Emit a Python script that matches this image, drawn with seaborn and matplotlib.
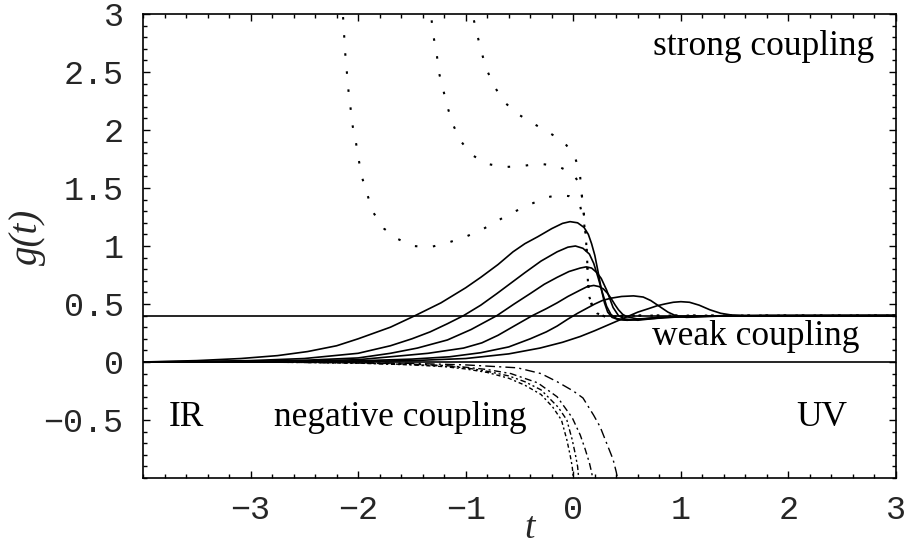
import matplotlib
matplotlib.use("Agg")
import numpy as np
import pandas as pd
import seaborn as sns
import matplotlib.pyplot as plt
from matplotlib.ticker import MultipleLocator

# ---------------- data ----------------
fixed_points = [0.0, 0.4]

# solid curves (weak-coupling flows)
s1_t = [-4.0, -3.5, -3.09, -2.75, -2.47, -2.2, -2.0, -1.79, -1.70, -1.47, -1.23, -1.0, -0.86, -0.7, -0.56, -0.45, -0.33, -0.2, -0.1, -0.03, 0.04, 0.1, 0.14, 0.17, 0.2, 0.23, 0.26, 0.29, 0.32, 0.36, 0.42, 0.5, 0.6, 0.8, 1.1, 1.5, 3.0]
s1_g = [0.0, 0.012, 0.03, 0.055, 0.09, 0.14, 0.20, 0.27, 0.30, 0.40, 0.51, 0.64, 0.73, 0.84, 0.95, 1.02, 1.08, 1.15, 1.195, 1.21, 1.20, 1.16, 1.10, 1.02, 0.92, 0.78, 0.63, 0.51, 0.43, 0.385, 0.365, 0.36, 0.37, 0.385, 0.395, 0.4, 0.4]

s2_t = [-4.0, -3.5, -3.0, -2.5, -2.0, -1.7, -1.5, -1.33, -1.17, -1.02, -0.86, -0.71, -0.58, -0.45, -0.3, -0.15, -0.05, 0.02, 0.09, 0.15, 0.19, 0.23, 0.27, 0.31, 0.35, 0.4, 0.5, 0.65, 0.8, 1.2, 3.0]
s2_g = [0.0, 0.005, 0.012, 0.03, 0.075, 0.14, 0.2, 0.26, 0.33, 0.40, 0.49, 0.59, 0.68, 0.77, 0.87, 0.95, 0.99, 1.0, 0.98, 0.93, 0.85, 0.73, 0.60, 0.48, 0.41, 0.375, 0.36, 0.37, 0.385, 0.398, 0.4]

s3_t = [-4.0, -3.0, -2.5, -2.0, -1.7, -1.45, -1.17, -0.95, -0.71, -0.55, -0.40, -0.27, -0.15, -0.04, 0.065, 0.12, 0.17, 0.22, 0.26, 0.31, 0.37, 0.42, 0.48, 0.6, 0.85, 1.3, 3.0]
s3_g = [0.0, 0.005, 0.015, 0.035, 0.075, 0.12, 0.19, 0.28, 0.40, 0.50, 0.59, 0.67, 0.73, 0.78, 0.81, 0.82, 0.81, 0.77, 0.72, 0.62, 0.47, 0.40, 0.37, 0.36, 0.385, 0.398, 0.4]

s4_t = [-4.0, -3.0, -2.5, -2.0, -1.7, -1.35, -1.02, -0.85, -0.7, -0.55, -0.38, -0.25, -0.15, -0.05, 0.065, 0.13, 0.19, 0.24, 0.28, 0.32, 0.35, 0.39, 0.42, 0.46, 0.5, 0.6, 0.75, 1.0, 1.5, 3.0]
s4_g = [0.0, 0.003, 0.008, 0.02, 0.045, 0.075, 0.12, 0.165, 0.23, 0.31, 0.40, 0.46, 0.51, 0.565, 0.62, 0.65, 0.66, 0.65, 0.63, 0.59, 0.55, 0.49, 0.45, 0.41, 0.39, 0.37, 0.375, 0.39, 0.4, 0.4]

s5_t = [-4.0, -2.5, -2.0, -1.5, -1.15, -0.86, -0.6, -0.4, -0.25, -0.15, -0.05, 0.04, 0.12, 0.2, 0.27, 0.35, 0.45, 0.56, 0.65, 0.72, 0.8, 0.88, 0.95, 1.05, 1.2, 1.4, 3.0]
s5_g = [0.0, 0.004, 0.01, 0.025, 0.045, 0.08, 0.13, 0.20, 0.26, 0.31, 0.37, 0.42, 0.46, 0.50, 0.53, 0.55, 0.565, 0.57, 0.56, 0.53, 0.48, 0.43, 0.40, 0.385, 0.39, 0.397, 0.4]

s6_t = [-4.0, -2.0, -1.5, -1.0, -0.6, -0.31, -0.1, 0.065, 0.2, 0.3, 0.4, 0.5, 0.6, 0.7, 0.78, 0.85, 0.93, 1.0, 1.08, 1.17, 1.27, 1.37, 1.47, 1.6, 1.8, 3.0]
s6_g = [0.0, 0.005, 0.012, 0.03, 0.07, 0.12, 0.17, 0.22, 0.27, 0.31, 0.35, 0.39, 0.43, 0.46, 0.485, 0.50, 0.515, 0.52, 0.515, 0.49, 0.45, 0.42, 0.405, 0.397, 0.4, 0.4]

# dotted curves (strong-coupling flows)
d1_t = [-2.16, -2.14, -2.12, -2.09, -2.05, -2.02, -1.99, -1.96, -1.91, -1.86, -1.76, -1.63, -1.49, -1.33, -1.16, -1.0, -0.85, -0.70, -0.56, -0.40, -0.24, -0.14, -0.04, 0.02, 0.065, 0.1, 0.12, 0.13, 0.135, 0.15, 0.18, 0.22, 0.3, 0.5, 3.0]
d1_g = [3.2, 2.97, 2.66, 2.34, 2.03, 1.89, 1.72, 1.58, 1.43, 1.29, 1.15, 1.06, 1.0, 0.99, 1.03, 1.08, 1.14, 1.22, 1.29, 1.36, 1.42, 1.44, 1.43, 1.40, 1.34, 1.2, 1.03, 0.86, 0.71, 0.56, 0.47, 0.42, 0.39, 0.4, 0.4]

d2_t = [-1.34, -1.32, -1.30, -1.27, -1.25, -1.21, -1.17, -1.12, -1.05, -0.95, -0.81, -0.65, -0.47, -0.32, -0.15, -0.01, 0.05, 0.075, 0.09, 0.11, 0.12, 0.13, 0.135, 0.15, 0.18, 0.22, 0.3, 0.5, 3.0]
d2_g = [3.1, 2.97, 2.81, 2.66, 2.5, 2.35, 2.2, 2.05, 1.91, 1.79, 1.71, 1.68, 1.69, 1.71, 1.69, 1.63, 1.55, 1.48, 1.34, 1.18, 1.03, 0.86, 0.71, 0.56, 0.47, 0.42, 0.39, 0.4, 0.4]

d3_t = [-0.95, -0.93, -0.89, -0.85, -0.80, -0.73, -0.64, -0.52, -0.38, -0.23, -0.09, 0.01, 0.06, 0.075, 0.09, 0.11, 0.12, 0.13, 0.135, 0.15, 0.18, 0.22, 0.3, 0.5, 3.0]
d3_g = [3.1, 2.97, 2.81, 2.66, 2.51, 2.37, 2.24, 2.14, 2.06, 1.98, 1.90, 1.78, 1.64, 1.48, 1.34, 1.18, 1.03, 0.86, 0.71, 0.56, 0.47, 0.42, 0.39, 0.4, 0.4]

# dash-dot curves (negative coupling)
n1_t = [-4.0, -3.0, -2.5, -2.0, -1.5, -1.2, -1.0, -0.8, -0.6, -0.45, -0.3, -0.19, -0.11, -0.06, -0.03, -0.01, 0.0]
n1_g = [0.0, -0.001, -0.004, -0.01, -0.025, -0.04, -0.06, -0.09, -0.14, -0.2, -0.28, -0.39, -0.5, -0.67, -0.8, -0.9, -1.0]

n2_t = [-4.0, -3.0, -2.5, -2.0, -1.5, -1.2, -1.0, -0.8, -0.6, -0.45, -0.3, -0.14, -0.06, -0.01, 0.02, 0.04, 0.05]
n2_g = [0.0, -0.001, -0.004, -0.009, -0.022, -0.035, -0.05, -0.08, -0.12, -0.17, -0.24, -0.39, -0.5, -0.67, -0.8, -0.9, -1.0]

n3_t = [-4.0, -3.0, -2.5, -2.0, -1.5, -1.2, -1.0, -0.8, -0.58, -0.33, -0.15, -0.01, 0.065, 0.11, 0.15, 0.17, 0.18]
n3_g = [0.0, -0.001, -0.003, -0.007, -0.018, -0.03, -0.045, -0.065, -0.1, -0.18, -0.30, -0.48, -0.63, -0.75, -0.87, -0.95, -1.0]

n4_t = [-4.0, -3.0, -2.5, -2.0, -1.5, -1.0, -0.52, -0.3, -0.15, 0.0, 0.09, 0.19, 0.25, 0.31, 0.37, 0.40, 0.41]
n4_g = [0.0, -0.001, -0.003, -0.006, -0.012, -0.025, -0.05, -0.1, -0.17, -0.25, -0.31, -0.46, -0.56, -0.70, -0.84, -0.95, -1.0]

x_ticks = [-3, -2, -1, 0, 1, 2, 3]
y_ticks = [-0.5, 0, 0.5, 1, 1.5, 2, 2.5, 3]
y_tick_labels = ["\u22120.5", "0", "0.5", "1", "1.5", "2", "2.5", "3"]
x_tick_labels = ["\u22123", "\u22122", "\u22121", "0", "1", "2", "3"]

annotations = [
    ("strong coupling", 2.80, 2.72, "right"),
    ("weak coupling", 2.66, 0.22, "right"),
    ("UV", 2.31, -0.48, "center"),
    ("IR", -3.60, -0.48, "center"),
    ("negative coupling", -1.61, -0.48, "center"),
]

# ---------------- plotting ----------------
sns.set_style("ticks")
plt.rcParams['font.family'] = ['Liberation Mono', 'DejaVu Sans']
plt.rcParams['axes.unicode_minus'] = True

fig = plt.figure(figsize=(9.06, 5.48), dpi=100)
ax = fig.add_axes([143 / 906, 70 / 548, 753 / 906, 464 / 548])

lw_solid = 1.2
for yv in fixed_points:
    ax.axhline(yv, color="black", lw=lw_solid, zorder=3)

for t, g in [(s1_t, s1_g), (s2_t, s2_g), (s3_t, s3_g), (s4_t, s4_g), (s5_t, s5_g), (s6_t, s6_g)]:
    sns.lineplot(x=t, y=g, ax=ax, color="black", lw=lw_solid, sort=False, estimator=None)

dot_style = (0, (1.2, 7.5))
for t, g in [(d1_t, d1_g), (d2_t, d2_g), (d3_t, d3_g)]:
    sns.lineplot(x=t, y=g, ax=ax, color="black", lw=1.5, sort=False, estimator=None,
                 linestyle=dot_style)

neg_styles = [(0, (3, 2, 1.5, 2)), (0, (4, 2, 1.5, 2, 1.5, 2)), (0, (5, 2.5, 1.5, 2.5)), (0, (7, 3, 1.5, 3))]
for (t, g), ls in zip([(n1_t, n1_g), (n2_t, n2_g), (n3_t, n3_g), (n4_t, n4_g)], neg_styles):
    sns.lineplot(x=t, y=g, ax=ax, color="black", lw=1.0, sort=False, estimator=None, linestyle=ls)

ax.set_xlim(-4, 3)
ax.set_ylim(-1, 3)
ax.set_xticks(x_ticks)
ax.set_xticklabels(x_tick_labels)
ax.set_yticks(y_ticks)
ax.set_yticklabels(y_tick_labels)
ax.xaxis.set_minor_locator(MultipleLocator(0.2))
ax.yaxis.set_minor_locator(MultipleLocator(0.1))
ax.tick_params(which="both", direction="in", top=True, right=True, color="black", width=1.0)
ax.tick_params(which="major", length=5, labelsize=24, pad=14)
ax.tick_params(axis="x", which="major", pad=12)
ax.tick_params(which="minor", length=3)
for sp in ax.spines.values():
    sp.set_linewidth(1.2)
    sp.set_color("black")

serif = ['Liberation Serif', 'DejaVu Serif']
ax.set_xlabel("t", family=serif, style="italic", fontsize=27)
ax.xaxis.label.set_verticalalignment("baseline")
ax.xaxis.set_label_coords((530 - 143) / 753, (478 - 538) / 464)
ax.set_ylabel("g(t)", family=serif, style="italic", fontsize=28)
ax.yaxis.set_label_coords((46 - 143) / 753, 0.52)

for txt, x, y, ha in annotations:
    ax.text(x, y, txt, family=serif, fontsize=25.5, ha=ha, va="center", color="black")

fig.savefig("out.png", dpi=100)
